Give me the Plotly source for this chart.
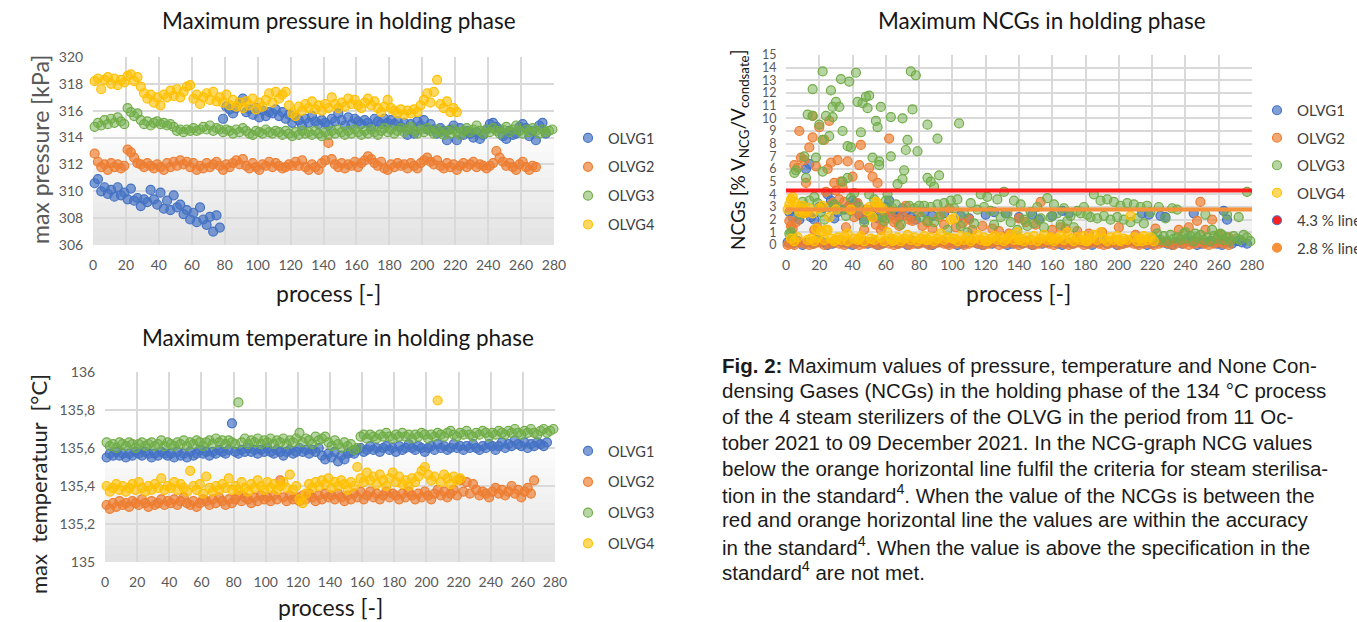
import plotly.graph_objects as go

W, H = 1357, 622

SERIES = ["OLVG1", "OLVG2", "OLVG3", "OLVG4"]
EDGE = ["#4472C4", "#ED7D31", "#70AD47", "#FFC000"]
FILL = ["rgba(68,114,196,0.68)", "rgba(237,125,49,0.68)", "rgba(112,173,71,0.50)", "rgba(255,192,0,0.62)"]

STEP = 2  # every second process is drawn

# ---------------- Maximum pressure [kPa] ----------------
P1A_START = 1
P1A = [310.6, 310.9, 310.0, 310.3, 309.8, 310.1, 309.6, 310.3, 309.7, 309.9, 309.4, 310.2, 309.3, 309.5,
       308.9, 309.4, 309.2, 310.1, 309.4, 309.0, 309.9, 308.7, 309.3, 308.6, 309.7, 308.8, 309.0, 308.3,
       308.6, 307.9, 308.4, 307.7, 308.8, 307.9, 307.5, 308.1, 307.0, 308.2, 307.3]
P1B_START = 79
P1B = [315.4, 316.3, 316.1, 315.8, 316.2, 316.6, 316.9, 315.9, 316.1, 315.7, 316.2, 315.5, 316.0, 315.6,
       315.9, 315.8, 316.1, 315.6, 315.9, 315.4, 315.7, 315.1, 315.5, 315.3, 314.9, 315.4, 315.1, 315.6,
       315.2, 315.0, 315.3, 315.1, 314.9, 315.4, 315.2, 315.8, 315.3, 314.9, 315.5, 315.0, 315.4, 315.2,
       315.0, 315.3, 315.1, 314.8, 315.4, 315.2, 315.0, 315.4, 315.1, 315.3, 315.0, 315.2, 314.8, 315.1,
       314.2, 315.0, 314.3, 315.2, 314.9, 315.3, 314.6, 315.0, 314.6, 314.3, 314.7, 314.5, 313.8, 314.6,
       314.9, 313.8, 314.7, 314.2, 314.5, 314.3, 314.0, 314.4, 313.9, 314.2, 314.6, 315.0, 315.1, 314.8,
       314.6, 314.1, 313.9, 314.5, 314.2, 314.3, 314.8, 315.0, 314.7, 314.1, 314.5, 313.8, 314.9, 315.1,
       314.3]
P2_START = 1
P2 = [312.8, 312.2, 311.8, 312.0, 311.6, 312.1, 311.8, 312.0, 311.7, 311.9, 313.1, 312.9, 312.5, 312.1,
      312.0, 311.8, 312.1, 311.9, 311.7, 312.0, 311.8, 311.6, 312.1, 311.8, 312.2, 311.9, 312.3, 312.0,
      312.2, 311.8, 312.1, 311.6, 311.9, 311.7, 312.1, 311.8, 312.0, 312.2, 311.9, 311.6, 312.0, 311.8,
      312.1, 312.3, 312.0, 312.4, 311.9, 311.7, 312.1, 311.8, 311.6, 312.0, 311.9, 312.2, 311.8, 312.1,
      311.9, 311.7, 311.8, 312.0, 311.9, 312.2, 311.9, 312.3, 311.8, 311.6, 312.0, 311.8, 311.6, 312.1,
      312.3, 313.6, 312.4, 312.0, 311.8, 312.1, 311.7, 312.0, 311.9, 312.2, 311.8, 312.1, 312.3, 312.6,
      312.4, 312.1, 311.9, 312.2, 311.7, 311.6, 312.0, 311.8, 312.1, 311.9, 312.0, 311.7, 312.1, 311.9,
      311.7, 312.1, 312.3, 312.5, 312.2, 312.0, 312.3, 311.9, 311.7, 312.1, 311.8, 312.0, 311.6, 311.9,
      312.1, 311.8, 312.0, 312.2, 311.8, 312.0, 311.9, 311.7, 311.9, 312.1, 313.0, 312.5, 312.2, 311.9,
      312.1, 311.8, 311.6, 312.0, 312.2, 311.8, 311.6, 311.9, 311.8]
P3_START = 1
P3 = [314.8, 315.1, 314.9, 315.3, 315.0, 315.4, 315.1, 315.5, 315.2, 315.0, 316.2, 315.9, 315.6, 315.8,
      315.3, 315.0, 315.2, 314.9, 315.1, 315.2, 315.0, 315.1, 314.9, 315.0, 314.8, 314.5, 314.6, 314.4,
      314.6, 314.5, 314.7, 314.5, 314.6, 314.8, 314.6, 314.9, 314.5, 314.7, 314.6, 314.4, 314.6, 314.5,
      314.3, 314.6, 314.4, 314.7, 314.5, 314.3, 314.2, 314.5, 314.4, 314.3, 314.6, 314.4, 314.3, 314.5,
      314.4, 314.2, 314.5, 314.3, 314.1, 314.4, 314.2, 314.5, 314.3, 314.4, 314.2, 314.5, 314.3, 314.1,
      314.4, 314.2, 314.5, 314.3, 314.6, 314.4, 314.2, 314.5, 314.3, 314.6, 314.4, 314.2, 314.5, 314.3,
      314.6, 314.4, 314.2, 314.5, 314.7, 314.4, 314.6, 314.3, 314.5, 314.7, 314.4, 314.6, 314.8, 314.5,
      314.3, 314.6, 314.4, 314.7, 314.5, 314.3, 314.6, 314.4, 314.2, 314.5, 314.3, 314.6, 314.4, 314.2,
      314.5, 314.7, 314.4, 314.6, 314.9, 314.5, 314.3, 314.6, 314.4, 314.7, 314.5, 314.3, 314.6, 314.8,
      314.4, 314.6, 314.9, 314.5, 314.3, 314.6, 314.4, 314.7, 314.5, 314.3, 314.6, 314.4, 314.5, 314.6,
      314.4]
P4_START = 1
P4 = [318.2, 318.4, 317.6, 318.3, 318.5, 318.0, 318.4, 317.9, 318.3, 318.1, 318.6, 318.7, 318.2, 318.5,
      317.8, 317.3, 316.9, 317.2, 316.6, 317.0, 316.4, 317.2, 317.0, 317.5, 317.1, 317.6, 317.0, 317.4,
      317.8, 317.9, 316.9, 317.2, 316.5, 317.0, 317.3, 316.8, 317.4, 316.7, 317.0, 316.6, 317.2, 316.4,
      316.8, 316.3, 316.6, 316.2, 316.7, 316.4, 316.9, 316.1, 316.6, 316.3, 316.8, 317.3, 316.6, 317.4,
      316.9, 317.2, 317.4, 316.4, 315.8, 315.6, 316.3, 316.0, 316.5, 316.2, 316.7, 316.1, 316.4, 316.0,
      316.5, 316.2, 317.0, 316.5, 316.2, 316.6, 316.3, 316.9, 316.5, 316.8, 316.4, 316.2, 316.6, 316.9,
      316.4, 316.7, 316.2, 315.9, 316.3, 316.8, 316.2, 316.0, 315.8, 316.1, 315.7, 316.0, 315.8, 316.1,
      315.9, 316.4, 316.8, 317.3, 316.6, 317.4, 318.3, 316.5, 316.2, 316.7, 315.9, 316.2, 315.9]

# ---------------- Maximum temperature [°C] ----------------
T1_START = 1
T1 = [135.55, 135.57, 135.56, 135.58, 135.56, 135.57, 135.55, 135.57, 135.56, 135.58, 135.57, 135.56,
      135.58, 135.57, 135.55, 135.57, 135.56, 135.58, 135.57, 135.56,
      135.57, 135.55, 135.58, 135.56, 135.57, 135.55, 135.58, 135.56, 135.57, 135.59, 135.57, 135.58,
      135.56, 135.58, 135.57, 135.59, 135.58, 135.57, 135.59,
      135.73,
      135.58, 135.57, 135.59, 135.58, 135.60, 135.58, 135.59, 135.57, 135.59, 135.58, 135.60, 135.58,
      135.57, 135.59, 135.58, 135.56, 135.58, 135.59, 135.57, 135.58, 135.60, 135.58, 135.59, 135.57,
      135.59, 135.58, 135.60,
      135.56, 135.54, 135.57, 135.55, 135.58, 135.53, 135.56, 135.54,
      135.57, 135.58, 135.57, 135.59,
      135.60, 135.58, 135.59, 135.61, 135.59, 135.60, 135.58, 135.60, 135.61, 135.59, 135.60, 135.58,
      135.61, 135.59, 135.60, 135.62, 135.60, 135.59, 135.61, 135.60, 135.58, 135.60, 135.61, 135.59,
      135.62, 135.60, 135.61, 135.59, 135.60, 135.62, 135.60, 135.61, 135.59, 135.61, 135.60, 135.62,
      135.60, 135.59, 135.61, 135.60, 135.62, 135.61, 135.59, 135.61, 135.63, 135.60, 135.62, 135.61,
      135.64, 135.62, 135.61, 135.63, 135.60, 135.62, 135.61, 135.63, 135.62, 135.61, 135.63]
T2_START = 1
T2 = [135.30, 135.28, 135.31, 135.29, 135.32, 135.30, 135.31, 135.29, 135.32, 135.31, 135.30, 135.33,
      135.31, 135.29, 135.32, 135.30, 135.31, 135.33, 135.30, 135.32,
      135.31, 135.33, 135.30, 135.32, 135.34, 135.31, 135.30, 135.32, 135.29, 135.31, 135.33, 135.32,
      135.30, 135.33, 135.31, 135.34, 135.32, 135.30, 135.33, 135.31,
      135.33, 135.35, 135.32, 135.34, 135.33, 135.31, 135.34, 135.32, 135.35, 135.33, 135.34, 135.32,
      135.35, 135.33, 135.43, 135.34, 135.32, 135.35, 135.33, 135.34,
      135.32, 135.35, 135.33, 135.36, 135.34, 135.32, 135.35, 135.33, 135.36, 135.34, 135.35, 135.33,
      135.36, 135.34, 135.32, 135.35, 135.33, 135.36, 135.34, 135.37,
      135.33, 135.35, 135.37, 135.34, 135.36, 135.33, 135.35, 135.37, 135.34, 135.36, 135.35, 135.33,
      135.36, 135.34, 135.37, 135.35, 135.33, 135.36, 135.34, 135.37,
      135.35, 135.33, 135.36, 135.38, 135.35, 135.37, 135.34, 135.36, 135.38, 135.35, 135.43, 135.37,
      135.42, 135.36, 135.41, 135.38, 135.35, 135.37, 135.36, 135.34,
      135.37, 135.39, 135.36, 135.38, 135.35, 135.37, 135.40, 135.36, 135.38, 135.34, 135.37, 135.39,
      135.36, 135.43]
T3_START = 1
T3 = [135.63, 135.61, 135.62, 135.60, 135.63, 135.62, 135.61, 135.63, 135.62, 135.60, 135.62, 135.63,
      135.61, 135.62, 135.63, 135.61, 135.62, 135.64, 135.61, 135.63,
      135.62, 135.61, 135.63, 135.62, 135.64, 135.61, 135.63, 135.62, 135.64, 135.63, 135.61, 135.63,
      135.64, 135.62, 135.65, 135.63, 135.64, 135.62, 135.64, 135.63, 135.62,
      135.84,
      135.63, 135.65, 135.62, 135.64, 135.63, 135.65, 135.62, 135.64, 135.63, 135.65, 135.62, 135.64,
      135.63, 135.65, 135.62, 135.64, 135.63, 135.65,
      135.68,
      135.63, 135.65, 135.64, 135.62, 135.66, 135.64, 135.65, 135.66,
      135.63, 135.61, 135.64, 135.62, 135.60, 135.63, 135.61, 135.62, 135.59, 135.60,
      135.66, 135.67, 135.65, 135.67, 135.66, 135.65, 135.67, 135.66, 135.68, 135.66, 135.65, 135.67,
      135.66, 135.68, 135.66, 135.67, 135.65, 135.67, 135.66, 135.68, 135.67, 135.65, 135.67, 135.66,
      135.68, 135.67, 135.66, 135.68, 135.69, 135.67, 135.66, 135.68, 135.67, 135.69, 135.67, 135.66,
      135.68, 135.67, 135.69, 135.68, 135.66, 135.68, 135.67, 135.69, 135.68, 135.67, 135.69, 135.68,
      135.70, 135.68, 135.67, 135.69, 135.68, 135.70, 135.68, 135.67, 135.69, 135.70, 135.68, 135.69,
      135.70, 135.68]
T4_START = 1
T4 = [135.40, 135.37, 135.39, 135.41, 135.38, 135.40, 135.37, 135.39, 135.41, 135.38, 135.42, 135.39,
      135.37, 135.40, 135.38, 135.41, 135.39, 135.44, 135.38, 135.40,
      135.39, 135.42, 135.38, 135.41, 135.39, 135.37, 135.48, 135.40, 135.38, 135.41, 135.36, 135.45,
      135.39, 135.37, 135.40, 135.38, 135.41, 135.39, 135.44, 135.38,
      135.40, 135.38, 135.42, 135.39, 135.37, 135.41, 135.39, 135.43, 135.40, 135.38, 135.42, 135.39,
      135.41, 135.38, 135.40, 135.42, 135.39, 135.46, 135.38, 135.40,
      135.33, 135.31, 135.36, 135.41, 135.39, 135.42, 135.40, 135.43, 135.41, 135.44, 135.39, 135.42,
      135.40, 135.43, 135.41, 135.38, 135.42, 135.40, 135.50, 135.44,
      135.42, 135.47, 135.43, 135.45, 135.41, 135.46, 135.43, 135.40, 135.44, 135.47, 135.42, 135.45,
      135.41, 135.43, 135.40, 135.44, 135.42, 135.45, 135.48, 135.50,
      135.46, 135.43, 135.45, 135.85, 135.42, 135.46, 135.44, 135.41, 135.45, 135.43, 135.44]

# ---------------- Maximum NCGs [%] ----------------
NCG_BAND_STEP = 3
N1_BAND_START = 1
N1_BAND = [0.2, 0.1, 0.3, 0.0, 0.2, 0.1, 0.4, 0.2, 0.0, 0.1, 0.3, 0.2, 0.1, 0.0, 0.2, 0.3, 0.1, 0.2,
           0.0, 0.1, 0.3, 0.2, 0.1, 0.2, 0.0, 0.3, 0.1, 0.2, 0.1, 0.0, 0.2, 0.3, 0.1, 0.2, 0.0, 0.1,
           0.2, 0.3, 0.1, 0.0, 0.2, 0.1, 0.3, 0.2, 0.0, 0.1, 0.2, 0.1, 0.3, 0.0, 0.2, 0.1, 0.2, 0.3,
           0.1, 0.0, 0.2, 0.1, 0.3, 0.2, 0.1, 0.0, 0.2, 0.3, 0.1, 0.2, 0.0, 0.1, 0.2, 0.3, 0.1, 0.2,
           0.0, 0.1, 0.3, 0.2, 0.1, 0.0, 0.2, 0.1, 0.3, 0.2, 0.0, 0.1, 0.2, 0.3, 0.1, 0.0, 0.2, 0.1,
           0.3, 0.2, 0.1]
N1_X = [2, 4, 8, 12, 14, 15, 17, 20, 22, 25, 27, 29, 31, 35, 38, 40, 42, 44, 47, 50, 52, 55, 60, 62,
        64, 66, 68, 70, 72, 75, 78, 83, 88, 95, 105, 110, 120, 125, 132, 140, 148, 152, 160, 166, 170,
        214, 218, 225, 228, 245, 263, 265]
N1_Y = [2.6, 2.2, 2.0, 6.0, 6.4, 2.2, 2.0, 3.0, 2.9, 4.0, 3.5, 2.1, 2.6, 2.8, 3.1, 3.5, 3.3, 2.4, 2.0,
        2.7, 2.3, 2.1, 3.0, 3.5, 2.4, 2.6, 2.2, 2.9, 2.6, 2.2, 2.0, 2.6, 2.3, 2.5, 2.3, 2.1, 2.4, 2.6,
        2.5, 2.2, 2.4, 2.0, 2.3, 2.7, 2.5, 2.5, 2.4, 2.3, 2.2, 2.5, 2.7, 2.0]

N2_BAND_START = 2
N2_BAND = [0.1, 0.0, 0.2, 0.1, 0.0, 0.1, 0.2, 0.0, 0.1, 0.2, 0.1, 0.0, 0.2, 0.1, 0.0, 0.1, 0.2, 0.1,
           0.0, 0.2, 0.1, 0.0, 0.1, 0.2, 0.0, 0.1, 0.1, 0.2, 0.0, 0.1, 0.2, 0.1, 0.0, 0.1, 0.2, 0.0,
           0.1, 0.2, 0.1, 0.0, 0.1, 0.2, 0.0, 0.1, 0.2, 0.1, 0.0, 0.2, 0.1, 0.0, 0.1, 0.2, 0.1, 0.0,
           0.2, 0.1, 0.0, 0.1, 0.2, 0.0, 0.1, 0.2, 0.1, 0.0, 0.1, 0.2, 0.0, 0.1, 0.2, 0.1, 0.0, 0.1,
           0.2, 0.0, 0.1, 0.2, 0.1, 0.0, 0.2, 0.1, 0.0, 0.1, 0.2, 0.1, 0.0, 0.1, 0.2, 0.1, 0.0]
N2_X = [1, 2, 3, 4, 5, 6, 7, 8, 9, 10, 11, 12, 13, 14, 16, 16, 17, 18, 19, 20, 21, 23, 24, 25, 26, 27,
        28, 29, 30, 31, 32, 33, 34, 35, 36, 37, 38, 39, 40, 41, 43, 44, 45, 46, 47, 48, 50, 51, 52, 53,
        54, 55, 56, 57, 58, 59, 60, 62, 63, 65, 66, 68, 70, 72, 74, 76, 80, 82, 85, 88, 92, 95, 98, 102,
        106, 110, 112, 118, 124, 128, 134, 140, 144, 150, 153, 160, 165, 168, 175, 182, 190, 200, 210,
        222, 236, 242, 247, 249, 252, 256, 260, 266]
N2_Y = [0.0, 1.9, 1.5, 1.3, 6.3, 1.8, 6.1, 9.0, 6.9, 2.5, 6.7, 4.9, 2.6, 7.7, 8.5, 10.2, 1.2, 6.2, 1.4,
        9.3, 3.0, 8.3, 4.2, 6.0, 9.8, 6.5, 3.3, 4.9, 4.3, 6.7, 3.6, 5.0, 4.5, 3.4, 1.4, 6.6, 3.0, 2.7,
        5.4, 2.2, 3.3, 6.3, 7.9, 2.5, 1.2, 2.8, 6.1, 2.3, 5.4, 3.0, 1.6, 4.9, 2.9, 1.2, 1.5, 2.6, 2.1,
        8.4, 2.7, 1.8, 2.0, 1.5, 2.3, 3.1, 2.0, 1.9, 2.6, 1.5, 1.8, 1.3, 2.2, 1.6, 2.9, 1.4, 1.7, 2.0,
        1.2, 1.5, 1.3, 1.1, 0.9, 2.1, 1.8, 1.6, 3.4, 1.2, 1.4, 1.3, 1.1, 0.9, 1.0, 1.4, 0.8, 1.3, 1.2,
        1.4, 1.9, 3.4, 1.2, 2.0, 0.8, 0.6]

N3_MID_START = 81
N3_MID = [2.2, 3.1, 1.9, 3.0, 1.8, 3.2, 2.4, 3.3, 1.2, 3.5, 2.9, 3.6, 1.5, 2.5, 1.0, 3.3, 1.7, 2.8,
          4.0, 3.0, 3.8, 2.7, 1.6, 3.6, 2.2, 4.2, 2.5, 1.8, 3.5, 1.2, 3.2, 2.0, 1.5, 2.6, 1.7, 3.0,
          2.1, 1.4, 3.7, 2.2, 3.2, 2.5, 1.6, 2.9, 1.9, 2.3, 1.4, 2.7, 2.5, 3.0, 2.4, 2.2, 4.0, 2.1,
          3.5, 2.3, 3.6, 2.0, 3.4, 2.2, 3.1, 2.0, 3.3, 1.8, 3.2, 2.1, 3.0, 1.7, 3.1, 2.6]
N3_LOW_START = 221
N3_LOW = [0.6, 0.9, 0.4, 0.7, 0.3, 0.8, 0.5, 0.6, 0.4, 0.9, 0.5, 0.7, 0.3, 0.6, 0.8, 0.4, 0.6, 0.3,
          0.7, 0.5, 0.9, 0.4, 0.6, 0.3, 0.7, 0.5, 0.4, 0.8, 0.6, 0.3, 0.5]
N3_X = [22, 42, 75, 78, 33, 38, 16, 27, 50, 48, 30, 32, 28, 43, 46, 49, 57, 76, 13, 16, 24, 28, 63,
        70, 54, 20, 55, 85, 104, 34, 45, 26, 22, 73, 91, 37, 39, 72, 79, 11, 18, 52, 56, 63, 56, 22,
        71, 6, 5, 12, 34, 37, 67, 70, 85, 92, 87, 89, 50, 41, 61,
        2, 3, 4, 8, 9, 10, 14, 17, 19, 21, 23, 26, 29, 33, 36, 39, 44, 47, 51, 53, 58, 59, 60, 64,
        66, 69, 74, 77, 80,
        224, 228, 232, 235, 240, 246, 252, 256, 262, 265, 272, 277]
N3_Y = [13.7, 13.6, 13.7, 13.4, 13.1, 12.9, 12.3, 12.2, 11.8, 11.7, 11.3, 10.9, 10.9, 11.3, 11.2, 10.8,
        10.9, 10.7, 10.3, 10.2, 10.2, 10.1, 10.1, 10.0, 9.8, 9.5, 9.3, 9.5, 9.6, 9.0, 8.9, 8.6, 8.3,
        8.3, 8.4, 7.8, 7.7, 7.5, 7.4, 7.0, 6.9, 6.9, 6.6, 7.0, 6.3, 5.8, 5.9, 5.9, 5.7, 5.3, 5.0,
        5.3, 4.8, 5.2, 5.3, 5.5, 5.0, 4.6, 4.0, 4.1, 4.0,
        0.9, 1.0, 0.7, 2.4, 3.0, 3.4, 3.5, 3.8, 3.3, 2.6, 2.0, 3.0, 3.2, 2.8, 2.3, 3.7, 3.0, 1.8,
        2.5, 3.6, 2.2, 1.9, 3.5, 2.9, 3.2, 1.6, 3.1, 2.9, 3.1,
        3.0, 2.1, 2.9, 2.8, 1.0, 0.9, 2.4, 1.2, 0.8, 2.4, 2.2, 4.2]

N4_BAND_START = 1
N4_BAND = [2.8, 3.6, 3.4, 0.6, 2.9, 2.5, 0.4, 0.5, 0.3, 0.6, 1.1, 0.4, 1.2, 0.5, 0.3, 0.6, 0.4, 0.7,
           0.3, 2.8, 0.5, 0.4, 0.7, 0.3, 2.7, 0.5, 0.4, 3.3, 0.6, 0.3, 1.0, 0.5, 0.4, 0.6, 0.3, 0.5,
           0.8, 0.4, 0.6, 0.3, 0.5, 0.7, 0.4, 0.6, 0.3, 0.5, 0.9, 0.4, 0.6, 2.0, 0.5, 0.3, 0.7, 0.4,
           0.6, 0.3, 0.5, 0.8, 0.4, 0.6, 0.3, 0.5, 0.7, 0.4, 0.6, 0.3, 0.5, 0.8, 0.4, 1.0, 0.5, 0.3,
           0.6, 0.4, 0.7, 0.3, 0.5, 0.8, 0.4, 0.6, 0.3, 0.5, 0.7, 0.4, 1.0, 0.5, 0.3, 0.6, 0.4, 0.7,
           0.3, 0.5, 0.8, 0.4, 1.0, 0.5, 0.3, 0.6, 0.4, 0.7, 0.3, 0.5, 0.4, 2.3, 0.6, 0.3, 0.5, 0.7,
           0.4, 0.6, 0.3]
N4_X = [2, 4, 6, 8, 10, 12, 3, 5, 14, 16, 18, 20, 22, 24, 26, 30, 37, 50, 52, 54, 56, 58, 101,
        30, 44, 64, 84, 100, 120, 140, 160, 180, 200, 214]
N4_Y = [3.2, 3.8, 3.0, 2.6, 3.1, 2.7, 0.5, 0.3, 2.9, 2.5, 1.3, 2.9, 3.1, 1.2, 2.2, 2.8, 0.9, 3.0,
        2.2, 3.4, 3.0, 2.9, 2.1,
        0.4, 0.5, 0.3, 0.4, 0.5, 0.3, 0.4, 0.5, 0.3, 0.4, 0.3]

LIMIT_X = [0, 280]
LIMIT_RED = [4.3, 4.3]
LIMIT_ORANGE = [2.8, 2.8]

CAPTION = [
    "<b>Fig. 2:</b> Maximum values of pressure, temperature and None Con-",
    "densing Gases (NCGs) in the holding phase of the 134 °C process",
    "of the 4 steam sterilizers of the OLVG in the period from 11 Oc-",
    "tober 2021 to 09 December 2021. In the NCG-graph NCG values",
    "below the orange horizontal line fulfil the criteria for steam sterilisa-",
    "tion in the standard<sup>4</sup>. When the value of the NCGs is between the",
    "red and orange horizontal line the values are within the accuracy",
    "in the standard<sup>4</sup>. When the value is above the specification in the",
    "standard<sup>4</sup> are not met.",
]


def idx(start, step, n):
    return list(range(start, start + step * n, step))


def px(x):
    return x / W


def py(y):
    return 1 - y / H


CHART_FONT = "Lato, 'Open Sans', sans-serif"
CAPTION_FONT = "'Liberation Sans', Arial, sans-serif"
fig = go.Figure()


def add(x, y, i, xa, ya, leg, show=True):
    fig.add_trace(go.Scatter(
        x=x, y=y, mode="markers", name=SERIES[i], showlegend=show,
        legendgroup=f"{leg}{i}", legend=leg, xaxis=xa, yaxis=ya, cliponaxis=False,
        marker=dict(size=9, color=FILL[i], line=dict(color=EDGE[i], width=1.2)),
        hoverinfo="x+y+name"))


# pressure
add(idx(P1A_START, STEP, len(P1A)) + idx(P1B_START, STEP, len(P1B)), P1A + P1B, 0, "x", "y", "legend")
add(idx(P2_START, STEP, len(P2)), P2, 1, "x", "y", "legend")
add(idx(P3_START, STEP, len(P3)), P3, 2, "x", "y", "legend")
add(idx(P4_START, STEP, len(P4)), P4, 3, "x", "y", "legend")

# temperature
for i, (s, v) in enumerate([(T1_START, T1), (T2_START, T2), (T3_START, T3), (T4_START, T4)]):
    add(idx(s, STEP, len(v)), v, i, "x2", "y2", "legend2")

# NCG
add(idx(N1_BAND_START, NCG_BAND_STEP, len(N1_BAND)) + N1_X, N1_BAND + N1_Y, 0, "x3", "y3", "legend3")
add(idx(N2_BAND_START, NCG_BAND_STEP, len(N2_BAND)) + N2_X, N2_BAND + N2_Y, 1, "x3", "y3", "legend3")
add(idx(N3_MID_START, STEP, len(N3_MID)) + idx(N3_LOW_START, STEP, len(N3_LOW)) + N3_X,
    N3_MID + N3_LOW + N3_Y, 2, "x3", "y3", "legend3")
add(idx(N4_BAND_START, STEP, len(N4_BAND)) + N4_X, N4_BAND + N4_Y, 3, "x3", "y3", "legend3")

fig.add_trace(go.Scatter(x=LIMIT_X, y=LIMIT_RED, mode="lines", line=dict(color="#FF1F1F", width=4),
                         showlegend=False, xaxis="x3", yaxis="y3", cliponaxis=False))
fig.add_trace(go.Scatter(x=LIMIT_X, y=LIMIT_ORANGE, mode="lines", line=dict(color="#F7923A", width=4),
                         showlegend=False, xaxis="x3", yaxis="y3", cliponaxis=False))
fig.add_trace(go.Scatter(x=[None], y=[None], mode="markers", name="4.3 % line", legend="legend3",
                         legendgroup="l43", xaxis="x3", yaxis="y3",
                         marker=dict(size=9, color="#FF1F1F", line=dict(color="#4472C4", width=1.2))))
fig.add_trace(go.Scatter(x=[None], y=[None], mode="markers", name="2.8 % line", legend="legend3",
                         legendgroup="l28", xaxis="x3", yaxis="y3",
                         marker=dict(size=9, color="#F7923A", line=dict(color="#F7923A", width=1.2))))

GRID = "#D9D9D9"
TICKC = "#595959"


def xax(domain, anchor):
    return dict(domain=domain, anchor=anchor, range=[0, 280], dtick=20, tick0=0, showgrid=True,
                gridcolor=GRID, gridwidth=1.5, zeroline=False, showline=False, ticks="outside",
                ticklen=7, tickcolor="rgba(0,0,0,0)", tickfont=dict(family=CHART_FONT, size=14, color=TICKC),
                fixedrange=True)


def yax(domain, anchor, rng, dtick, size=14):
    return dict(domain=domain, anchor=anchor, range=rng, dtick=dtick, tick0=rng[0], showgrid=True,
                gridcolor=GRID, gridwidth=1.5, zeroline=False, showline=False, ticks="outside",
                ticklen=6, tickcolor="rgba(0,0,0,0)", tickfont=dict(family=CHART_FONT, size=size, color=TICKC),
                fixedrange=True)


shapes = []
# Excel-like soft gradient in the plot areas (white at top, light grey at bottom)
for xr, yr, n, a in [("x domain", "y domain", 14, 0.0075), ("x2 domain", "y2 domain", 14, 0.0075),
                     ("x3 domain", "y3 domain", 8, 0.007)]:
    for k in range(1, n + 1):
        shapes.append(dict(type="rect", xref=xr, yref=yr, x0=0, x1=1, y0=0, y1=k * 0.045,
                           fillcolor=f"rgba(0,0,0,{a})", line=dict(width=0), layer="below"))
annotations = []


def text(x, y, s, size, color="#262626", angle=0, xanchor="center", family=CHART_FONT):
    annotations.append(dict(x=px(x), y=py(y), xref="paper", yref="paper", text=s, showarrow=False,
                            xanchor=xanchor, yanchor="middle", textangle=angle,
                            font=dict(family=family, size=size, color=color)))


text(339, 20, "Maximum pressure in holding phase", 22.5, "#161616")
text(338, 337, "Maximum temperature in holding phase", 22.5, "#161616")
text(1042, 20, "Maximum NCGs in holding phase", 22.5, "#161616")
text(328, 293, "process [-]", 23, "#1a1a1a")
text(330, 607, "process [-]", 23, "#1a1a1a")
text(1018, 293, "process [-]", 23, "#1a1a1a")
text(40, 150, "max pressure [kPa]", 23, TICKC, -90)
text(38, 484, "max\u00a0 temperatuur\u00a0 [°C]", 22, "#262626", -90)
text(739, 150, "NCGs [% V<sub>NCG</sub>/V<sub>condsate</sub>]", 19, "#141414", -90)

for k, line in enumerate(CAPTION):
    text(720, 365 + k * 25.8, line, 20.5, "#1a1a1a", 0, "left", CAPTION_FONT)


def legend(x, ytop, size, gap):
    return dict(x=px(x), y=py(ytop), xanchor="left", yanchor="top", bgcolor="rgba(0,0,0,0)",
                font=dict(family=CHART_FONT, size=size, color="#404040"), traceorder="grouped",
                tracegroupgap=gap, itemwidth=30)


fig.update_layout(
    width=W, height=H, margin=dict(l=0, r=0, t=0, b=0, autoexpand=False),
    paper_bgcolor="white", plot_bgcolor="white", separators=", ",
    font=dict(family=CHART_FONT),
    xaxis=xax([px(93), px(554)], "y"),
    yaxis=yax([py(245), py(57)], "x", [306, 320], 2),
    xaxis2=xax([px(105), px(555)], "y2"),
    yaxis2=yax([py(562), py(372)], "x2", [135, 136], 0.2),
    xaxis3=xax([px(786), px(1252)], "y3"),
    yaxis3=yax([py(245), py(55)], "x3", [0, 15], 1, 12.5),
    legend=legend(568, 122, 14.5, 7),
    legend2=legend(568, 435, 14.5, 9),
    legend3=legend(1257, 94, 15, 5),
    shapes=shapes, annotations=annotations,
    hovermode="closest",
)

fig.write_html("out.html", config={"displayModeBar": False},
               post_script="document.body.style.margin='0';document.body.style.overflow='hidden';")
